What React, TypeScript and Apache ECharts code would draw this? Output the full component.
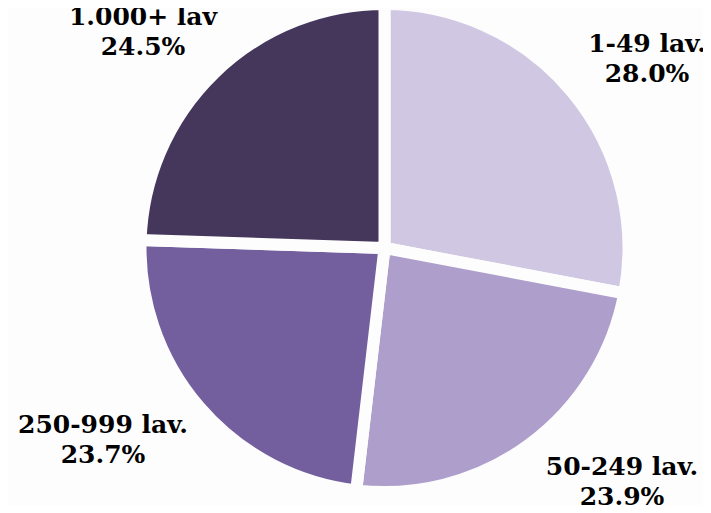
import React, { useEffect, useRef } from "react";
import * as echarts from "echarts";

const categories = ["1-49 lav.", "50-249 lav.", "250-999 lav.", "1.000+ lav"];
const shares = [28.0, 23.9, 23.7, 24.5];
const colors = ["#d0c7e3", "#ad9ecb", "#735f9e", "#45365b"];
const labelPos: [number, number][] = [
  [647, 58],
  [622, 481],
  [103, 439],
  [143, 31],
];

export default function App() {
  const ref = useRef<HTMLDivElement>(null);
  useEffect(() => {
    if (!ref.current) return;
    const chart = echarts.init(ref.current, undefined, { renderer: "svg" });
    chart.setOption({
      animation: false,
      backgroundColor: "#fdfdfd",
      series: [
        {
          type: "pie",
          center: [384.5, 248],
          radius: [0, 244],
          startAngle: 90,
          clockwise: true,
          avoidLabelOverlap: false,
          itemStyle: { borderColor: "#fdfdfd", borderWidth: 12 },
          label: {
            show: true,
            position: "outside",
            formatter: (p: any) => `${p.name}\n${Number(p.value).toFixed(1)}%`,
            fontFamily: "DejaVu Serif",
            fontWeight: "bold",
            fontSize: 25,
            lineHeight: 30,
            color: "#000000",
            align: "center",
          },
          labelLine: { show: false },
          labelLayout: (params: any) => {
            const p = labelPos[params.dataIndex];
            return { x: p[0], y: p[1], align: "center", verticalAlign: "middle" };
          },
          emphasis: { disabled: true },
          data: categories.map((c, i) => ({
            name: c,
            value: shares[i],
            itemStyle: { color: colors[i] },
          })),
        },
      ],
    });
    return () => chart.dispose();
  }, []);
  return <div ref={ref} style={{ width: 711, height: 513, margin: -8 }} />;
}
